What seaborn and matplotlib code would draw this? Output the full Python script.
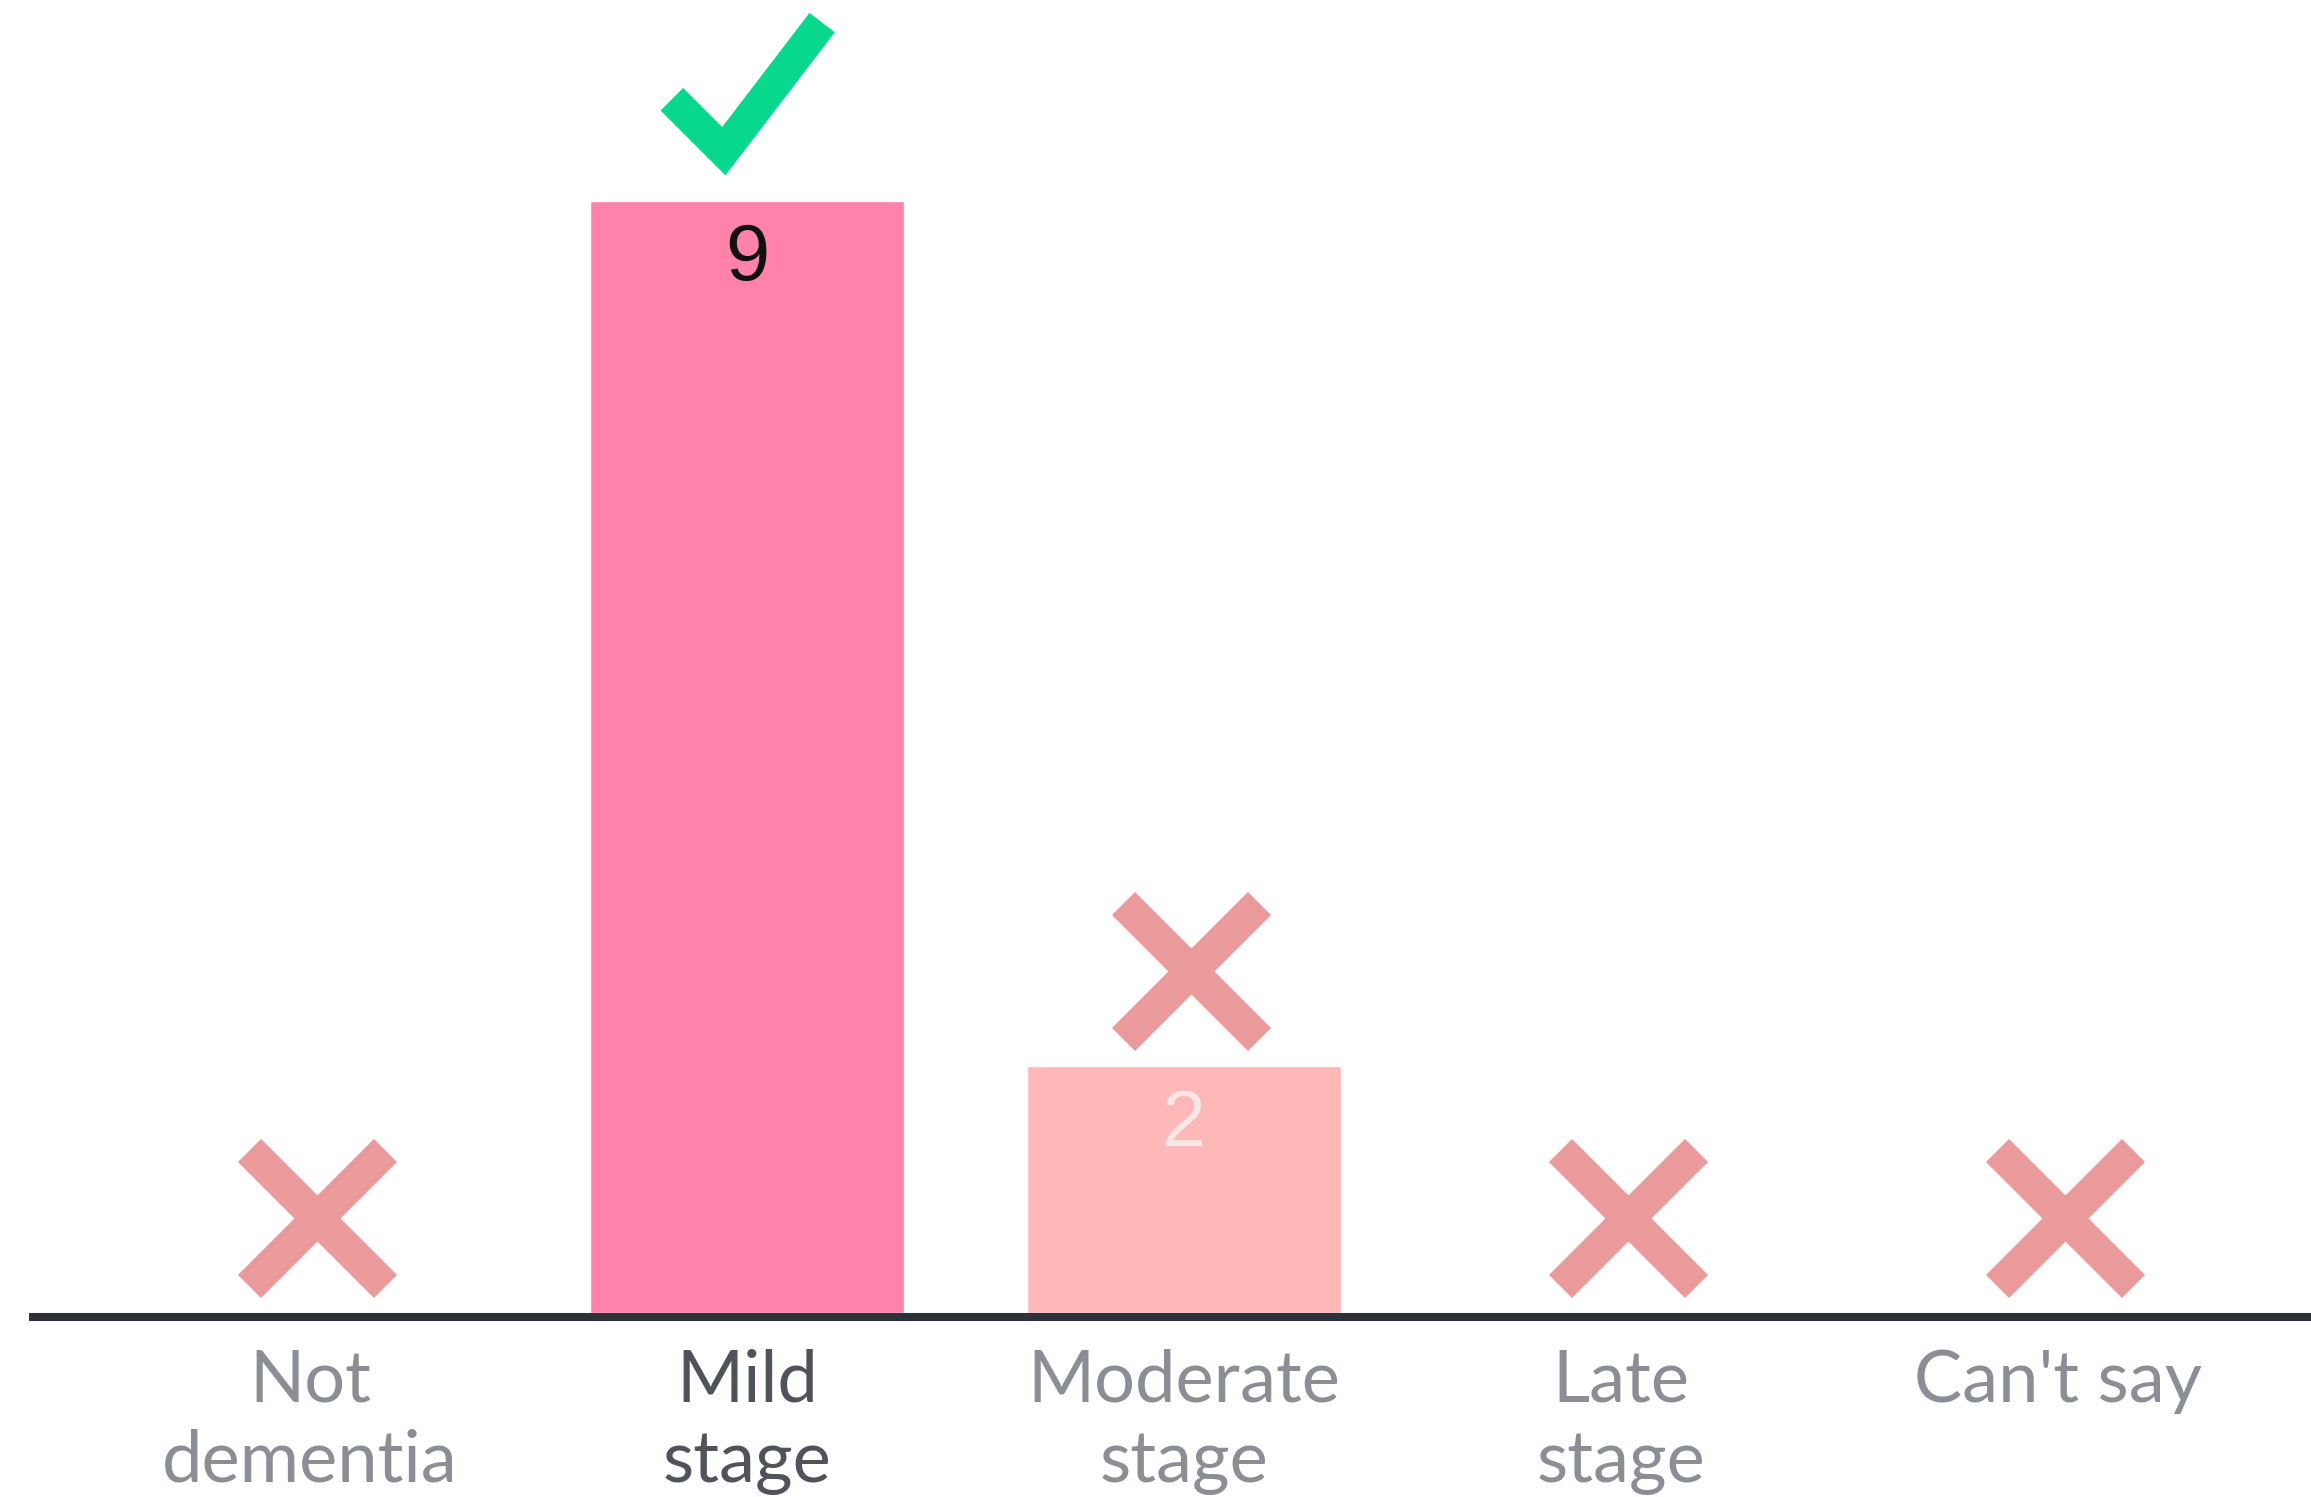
import matplotlib
matplotlib.use("Agg")
import matplotlib.pyplot as plt
import seaborn as sns
import pandas as pd

# Survey answers: how many respondents chose each stage
categories = ["Not\ndementia", "Mild\nstage", "Moderate\nstage", "Late\nstage", "Can't say"]
counts = [0, 9, 2, 0, 0]
correct = [False, True, False, False, False]

bar_colors = ["#ffb8b8", "#ff82ab", "#ffb8b8", "#ffb8b8", "#ffb8b8"]
value_colors = ["#fbe6e6", "#111111", "#fbe6e6", "#fbe6e6", "#fbe6e6"]

sns.set_theme(style="white")
plt.rcParams["font.family"] = ["Lato", "DejaVu Sans"]

df = pd.DataFrame({"answer": categories, "count": counts})

fig = plt.figure(figsize=(23.11, 14.97), dpi=100)
ax = fig.add_axes([29 / 2311, 180 / 1497, 1 - 29 / 2311, 1317 / 1497])

sns.barplot(data=df, x="answer", y="count", hue="answer", palette=bar_colors,
            width=0.72, legend=False, ax=ax, saturation=1)

ax.set_xlim(-0.643, 4.579)
ax.set_ylim(-0.032, 10.623)

# value labels inside the bars
for i, v in enumerate(counts):
    if v > 0:
        ax.text(i, v - 0.48, str(v), ha="center", va="center",
                fontsize=57, color=value_colors[i], family="Liberation Sans")

# wrong answers get a cross just above the bar
cross_dx = 0.015
xs = [i + cross_dx for i, c in enumerate(correct) if not c]
ys = [counts[i] + 0.77 for i, c in enumerate(correct) if not c]
ax.plot(xs, ys, linestyle="none", marker="x", markersize=98,
        markeredgewidth=23.5, color="#ea9a9a", zorder=4)

# the right answer gets a check mark
for i, c in enumerate(correct):
    if c:
        v = counts[i]
        ax.plot([i - 0.172, i - 0.053, i + 0.172], [v + 0.82, v + 0.40, v + 1.44],
                color="#08d88d", linewidth=23, solid_joinstyle="miter",
                solid_capstyle="butt", zorder=4, clip_on=False)

for side in ["left", "top", "right"]:
    ax.spines[side].set_visible(False)
ax.spines["bottom"].set_color("#2e3139")
ax.spines["bottom"].set_linewidth(5.8)
ax.spines["bottom"].set_capstyle("butt")
ax.spines["bottom"].set_zorder(5)

ax.set_yticks([])
ax.set_xlabel("")
ax.set_ylabel("")
ax.set_xticks(range(len(categories)))
ax.set_xticklabels(categories, fontsize=52, color="#8b8e94", linespacing=1.28)
ax.tick_params(axis="x", length=0, pad=23)
for lbl, c in zip(ax.get_xticklabels(), correct):
    if c:
        lbl.set_color("#50535a")

fig.savefig("out.png", dpi=100, facecolor="white")
